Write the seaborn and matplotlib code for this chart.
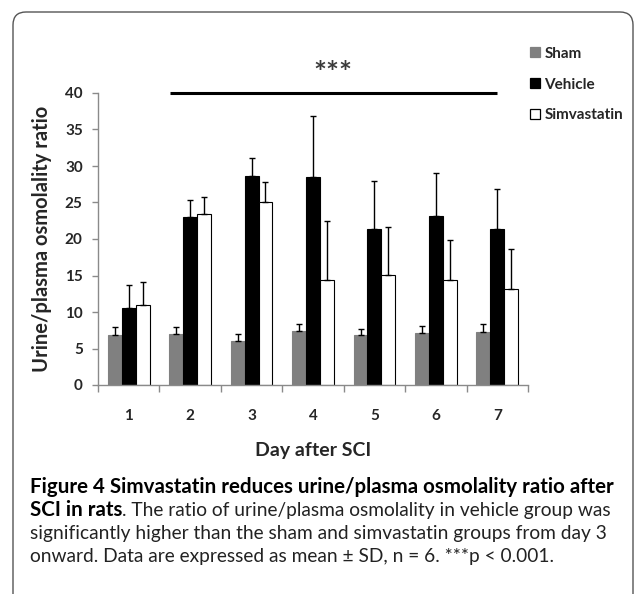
import numpy as np
import pandas as pd
import matplotlib
matplotlib.use("Agg")
import matplotlib.pyplot as plt
import seaborn as sns
from matplotlib.patches import FancyBboxPatch
from matplotlib.transforms import IdentityTransform

# ---------------- data ----------------
days = ["1", "2", "3", "4", "5", "6", "7"]
groups = ["Sham", "Vehicle", "Simvastatin"]
sham_mean = [6.8, 7.0, 6.0, 7.45, 6.8, 7.1, 7.3]
sham_sd = [1.1, 1.0, 1.0, 0.95, 0.9, 1.0, 1.1]
vehicle_mean = [10.5, 23.0, 28.6, 28.5, 21.4, 23.2, 21.4]
vehicle_sd = [3.2, 2.35, 2.5, 8.3, 6.6, 5.8, 5.5]
simva_mean = [10.9, 23.4, 25.0, 14.45, 15.1, 14.45, 13.1]
simva_sd = [3.2, 2.3, 2.8, 7.95, 6.5, 5.45, 5.5]
yticks = [0, 5, 10, 15, 20, 25, 30, 35, 40]
sig_label = "***"

W, H = 634, 594

sns.set_style("white")
plt.rcParams["font.family"] = ["Lato", "DejaVu Sans"]
plt.rcParams["axes.unicode_minus"] = False

df = pd.DataFrame({
    "day": days * 3,
    "group": np.repeat(groups, len(days)),
    "value": sham_mean + vehicle_mean + simva_mean,
})
sds = {"Sham": sham_sd, "Vehicle": vehicle_sd, "Simvastatin": simva_sd}
palette = {"Sham": "#808080", "Vehicle": "#000000", "Simvastatin": "#ffffff"}
edges = {"Sham": "#808080", "Vehicle": "#000000", "Simvastatin": "#000000"}

fig = plt.figure(figsize=(W / 100, H / 100), dpi=100)
ax = fig.add_axes([98 / W, 1 - 385 / H, (528 - 98) / W, (385 - 93) / H])

sns.barplot(data=df, x="day", y="value", hue="group", order=days,
            hue_order=groups, palette=palette, errorbar=None,
            width=0.68, gap=0, ax=ax, legend=True)

# bar edges + positive-only error bars
for cont, g in zip(ax.containers, groups):
    xs = []
    for p in cont.patches:
        p.set_edgecolor(edges[g])
        p.set_linewidth(0.8)
        xs.append(p.get_x() + p.get_width() / 2)
    means = df.loc[df.group == g, "value"].to_numpy()
    ax.errorbar(xs, means, yerr=[np.zeros(len(means)), sds[g]],
                fmt="none", ecolor="black", elinewidth=1.0,
                capsize=2.2, capthick=1.0, zorder=1)

ax.set_ylim(0, 40)
ax.set_xlim(-0.5, 6.5)
ax.set_yticks(yticks)
ax.set_xticks(range(len(days)))
ax.set_xticks(np.arange(-0.5, 7, 1), minor=True)
ax.set_xticklabels(days)

sns.despine(ax=ax)
for s in ["left", "bottom"]:
    ax.spines[s].set_color("#8a8a8a")
    ax.spines[s].set_linewidth(1.0)
ax.tick_params(axis="y", which="major", left=True, length=4, width=1,
               color="#8a8a8a", pad=7, labelsize=11)
ax.tick_params(axis="x", which="major", length=0, pad=17, labelsize=11)
ax.tick_params(axis="x", which="minor", bottom=True, length=5, width=1,
               color="#8a8a8a")
for lab in ax.get_xticklabels() + ax.get_yticklabels():
    lab.set_fontweight("bold")

ax.set_xlabel("Day after SCI", fontsize=14, fontweight="bold", labelpad=14)
ax.set_ylabel("Urine/plasma osmolality ratio", fontsize=14.5,
              fontweight="bold", labelpad=9)

# significance bar
ax.plot([0.67, 6.0], [40, 40], color="black", lw=2.2, clip_on=False,
        solid_capstyle="butt")
ax.text(3.33, 42.6, sig_label, ha="center", va="center", fontsize=22,
        fontweight="bold", color="#3a3a3a")

# legend
handles, labels = ax.get_legend_handles_labels()
ax.get_legend().remove()
for h, g in zip(handles, groups):
    h.set_edgecolor(edges[g])
    h.set_linewidth(0.9)
leg = fig.legend(handles, labels, loc="upper left",
                 bbox_to_anchor=(516 / W, 1 - 33 / H), frameon=False,
                 handlelength=0.65, handleheight=0.65, handletextpad=0.3,
                 labelspacing=1.1, prop={"weight": "bold", "size": 11})

# outer rounded box (bottom edge runs below the image)
box = FancyBboxPatch((13, -14), 620, H - 12 + 14,
                     boxstyle="round,pad=0,rounding_size=13",
                     transform=IdentityTransform(), fill=False,
                     edgecolor="#555555", linewidth=1.0)
fig.add_artist(box)

# caption
renderer = fig.canvas.get_renderer()
line1 = "Figure 4 Simvastatin reduces urine/plasma osmolality ratio after"
line3 = "significantly higher than the sham and simvastatin groups from day 3"


def fit_size(txt, weight, target):
    probe = fig.text(0, 0, txt, fontsize=10, fontweight=weight)
    w = probe.get_window_extent(renderer).width
    probe.remove()
    return 10 * target / w


cs_b = fit_size(line1, "bold", 614 - 30)
cs_n = fit_size(line3, "normal", 604 - 30)

x0 = 30 / W
base = [493, 516, 539, 562]
fig.text(x0, 1 - base[0] / H, line1, fontsize=cs_b, fontweight="bold",
         va="baseline", color="black")
t_b = fig.text(x0, 1 - base[1] / H, "SCI in rats", fontsize=cs_b,
               fontweight="bold", va="baseline", color="black")
bx = t_b.get_window_extent(renderer).x1
fig.text(bx / W, 1 - base[1] / H,
         ". The ratio of urine/plasma osmolality in vehicle group was",
         fontsize=cs_n, va="baseline", color="#222222")
fig.text(x0, 1 - base[2] / H, line3, fontsize=cs_n, va="baseline",
         color="#222222")
fig.text(x0, 1 - base[3] / H,
         "onward. Data are expressed as mean \u00b1 SD, n = 6. ***p < 0.001.",
         fontsize=cs_n, va="baseline", color="#222222")

fig.savefig("out.png", dpi=100)
